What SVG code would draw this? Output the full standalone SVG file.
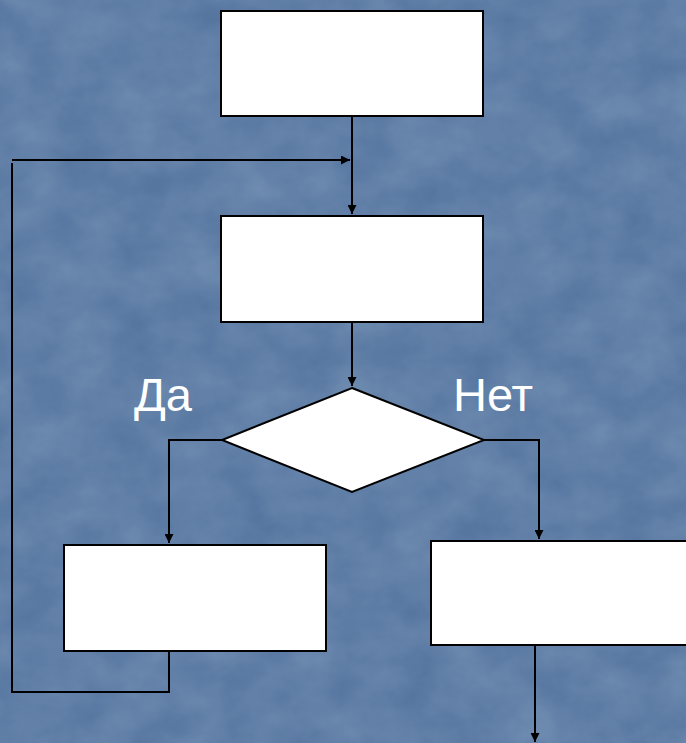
<svg xmlns="http://www.w3.org/2000/svg" width="686" height="743" viewBox="0 0 686 743">
<style>
.box{fill:#fff;stroke:#000;stroke-width:2}
.ln{fill:none;stroke:#000;stroke-width:2}
.lbl{font-family:"Liberation Sans",Arial,sans-serif;font-size:47px;fill:#fff}
</style>
<defs>
<marker id="ah" viewBox="0 0 10 10" refX="10" refY="5" markerWidth="11" markerHeight="9" markerUnits="userSpaceOnUse" orient="auto">
<path d="M0,0 L10,5 L0,10 Z" fill="#000"/>
</marker>
<filter id="tex" x="0" y="0" width="100%" height="100%">
<feTurbulence type="fractalNoise" baseFrequency="0.018 0.024" numOctaves="4" seed="7"/>
<feColorMatrix type="matrix" values="0 0 0 0 0.55  0 0 0 0 0.65  0 0 0 0 0.8  0 0 0 0.3 -0.05"/>
</filter>
</defs>
<rect width="686" height="743" fill="#5676a0"/>
<rect width="686" height="743" filter="url(#tex)"/>
<g id="connectors">
<path class="ln" d="M352,117 V214" marker-end="url(#ah)"/>
<path class="ln" d="M12,160 H350" marker-end="url(#ah)"/>
<path class="ln" d="M352,322 V386" marker-end="url(#ah)"/>
<path class="ln" d="M222,440 H169 V543" marker-end="url(#ah)"/>
<path class="ln" d="M484,440 H539 V539" marker-end="url(#ah)"/>
<path class="ln" d="M169,651 V692 H12 V163"/>
<path class="ln" d="M535,643 V742" marker-end="url(#ah)"/>
</g>
<g id="n1"><rect class="box" x="221" y="11" width="262" height="105"/></g>
<g id="n2"><rect class="box" x="221" y="216" width="262" height="106"/></g>
<g id="n3"><polygon class="box" points="352,388 484,440 352,492 222,440"/></g>
<g id="n4"><rect class="box" x="64" y="545" width="262" height="106"/></g>
<g id="n5"><rect class="box" x="431" y="541" width="262" height="104"/></g>
<g id="labels">
<text class="lbl" x="134" y="411">Да</text>
<text class="lbl" x="453" y="411">Нет</text>
</g>
</svg>
